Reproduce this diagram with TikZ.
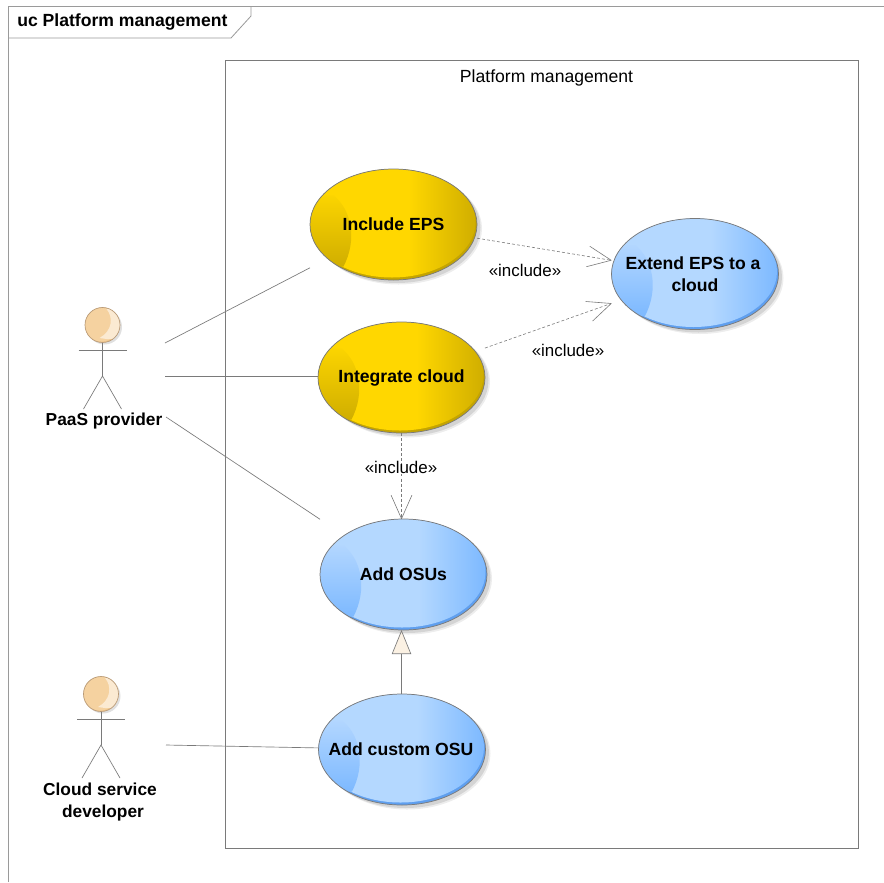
\documentclass[tikz,border=0pt]{standalone}
\usepackage{fontspec}
\setmainfont{Liberation Sans}
\usetikzlibrary{arrows.meta,calc}
\definecolor{ymain}{HTML}{FFD700}
\definecolor{ydark}{HTML}{D0AE00}
\definecolor{ybase}{HTML}{C4A400}
\definecolor{ycres}{HTML}{FBD400}
\definecolor{ymid}{HTML}{F0CB00}
\definecolor{bmain}{HTML}{B4D8FF}
\definecolor{bdark}{HTML}{7DB9FF}
\definecolor{bbase}{HTML}{5F9FEF}
\definecolor{bcres}{HTML}{B2D6FF}
\definecolor{bmid}{HTML}{9CCBFF}
\definecolor{skinA}{HTML}{FBEAD2}
\definecolor{skinB}{HTML}{F5D2A0}
\definecolor{skinC}{HTML}{EFC58C}
\definecolor{skinedge}{HTML}{B89A78}
\definecolor{tripale}{HTML}{FBF1E3}
\definecolor{framegray}{HTML}{9A9A9A}
\definecolor{linegray}{HTML}{7A7A7A}
\pgfdeclarehorizontalshading{ymainshade}{100bp}{color(0bp)=(ymain); color(55bp)=(ymain); color(75bp)=(ydark); color(100bp)=(ydark)}
\pgfdeclarehorizontalshading{bmainshade}{100bp}{color(0bp)=(bmain); color(55bp)=(bmain); color(75bp)=(bdark); color(100bp)=(bdark)}
\tikzset{
  ucbox/.style={draw=none,rectangle,inner sep=0pt,outer sep=0pt,minimum width=125.25pt,minimum height=83.25pt,align=center,font=\bfseries\fontsize{13.2}{16.5}\selectfont,text=black},
  actorbox/.style={draw=none,rectangle,inner sep=0pt,outer sep=0pt},
  actorline/.style={draw=linegray,line width=0.5pt},
  assoc/.style={draw=linegray,line width=0.5pt},
  incl/.style={draw=linegray,line width=0.45pt,dash pattern=on 2.2pt off 1.6pt},
  openhead/.style={-{Straight Barb[length=17.5pt,width=15.5pt,line width=0.45pt,round,sep=0pt]}},
  framel/.style={draw=framegray,line width=0.6pt},
  boundl/.style={draw=linegray,line width=0.55pt},
  lbl/.style={font=\fontsize{13.2}{15}\selectfont,text=black,inner sep=0pt},
  incllbl/.style={font=\fontsize{12.7}{15}\selectfont,text=black,inner sep=0pt},
  boldlbl/.style={font=\bfseries\fontsize{13}{16.5}\selectfont,text=black,inner sep=0pt,align=center},
  titlelbl/.style={font=\bfseries\fontsize{13.2}{15}\selectfont,text=black,inner sep=0pt,anchor=west},
}
\newcommand{\ucshape}[3]{% cx, cy, colour prefix
  \begin{scope}[shift={(#1,#2)}]
    \fill[black,opacity=0.07] (5,4) ellipse (83.5 and 56);
    \fill[black,opacity=0.10] (3.5,3) ellipse (83.5 and 55.5);
    \fill[#3base] (0,0) ellipse (83.5 and 55.5);
    \begin{scope}
      \clip (0,0) ellipse (83.5 and 55.5);
      \shade[shading=#3mainshade] (-1.5,-2.5) ellipse (83.5 and 55.5);
      \shade[top color=#3cres,middle color=#3mid,bottom color=#3dark]
        (-60,-29) .. controls (-42,-15) and (-36,15) .. (-50,42) -- (-90,42) -- (-90,-29) -- cycle;
    \end{scope}
    \draw[draw=linegray,line width=0.55pt] (0,0) ellipse (83.5 and 55.5);
  \end{scope}
}
\newcommand{\stick}[2]{% head centre x,y
  \begin{scope}[shift={(#1,#2)}]
    \fill[black,opacity=0.12] (2,2) circle (17.5);
    \fill[skinC] (0,0) circle (17.5);
    \begin{scope}
      \clip (0,0) circle (17.5);
      \fill[skinB] (-1,-1) circle (17.5);
      \fill[skinA] (4,-16) .. controls (11,-8) and (10,6) .. (-3,13) -- (4,14) -- (18,14) -- (18,-16) -- cycle;
    \end{scope}
    \draw[draw=skinedge,line width=0.5pt] (0,0) circle (17.5);
    \draw[actorline] (0,17.5) -- (0,51);
    \draw[actorline] (-24,25) -- (24,25);
    \draw[actorline] (-19,84) -- (0,51) -- (19,84);
  \end{scope}
}
\begin{document}
\begin{tikzpicture}[x=0.75pt,y=-0.75pt]
\useasboundingbox (0,0) rectangle (884,882);
\fill[white] (0,0) rectangle (884,882);
% frame
\draw[framel] (8.5,882) -- (8.5,6.5) -- (884,6.5);
\draw[framel] (8.5,38) -- (231,38) -- (251,16) -- (251,6.5);
\node[titlelbl] (frametitle) at (17,22) {uc Platform management};
% system boundary
\draw[boundl] (225.5,60.5) rectangle (858,848);
\node[lbl] (boundlabel) at (546.5,78) {Platform management};
% use cases
\ucshape{393.5}{224.5}{y}
\ucshape{695}{274}{b}
\ucshape{401.5}{377.5}{y}
\ucshape{403.5}{574.5}{b}
\ucshape{402}{749.5}{b}
\node[ucbox] (inceps) at (393.5,224.5) {Include EPS};
\node[ucbox] (extend) at (695,274) {\hspace*{-3pt}Extend EPS to a\\cloud};
\node[ucbox] (integ) at (401.5,377.5) {Integrate cloud};
\node[ucbox] (osus) at (403.5,574.5) {Add OSUs};
\node[ucbox] (custom) at (402,749.5) {\hspace*{-1.5pt}Add custom OSU};
% actors
\stick{102.5}{325}
\stick{101}{694}
\node[actorbox,minimum width=90.75pt,minimum height=92.25pt] (paas) at (104.5,368) {};
\node[actorbox,minimum width=91.5pt,minimum height=107.25pt] (dev) at (105,748) {};
\node[boldlbl] (paaslabel) at (104,421) {PaaS provider};
\node[boldlbl] (devlabel) at (100,802) {Cloud service\\\hspace*{4.5pt}developer};
% associations
\coordinate (p2) at ($(paas.east)+(0,8)$);
\draw[assoc] ($(paas.east)+(0,-25)$) -- (inceps);
\draw[assoc] (p2) -- (p2 -| integ.west);
\draw[assoc] ($(paas.east)+(1,49)$) -- (osus);
\draw[assoc] ($(dev.east)+(0,-3)$) -- (custom);
% includes
\draw[incl,openhead] (inceps) -- (extend);
\draw[incl,openhead] (integ) -- (extend);
\draw[incl,openhead] (integ.south) -- (integ.south |- osus.north);
\node[incllbl] (l1) at (525,270.5) {«include»};
\node[incllbl] (l2) at (568,350.5) {«include»};
\node[incllbl] (l3) at (401,467.5) {«include»};
% generalisation
\draw[draw=linegray,line width=0.5pt,-{Triangle[length=18pt,width=14.5pt,fill=tripale,line width=0.5pt]}] (custom.north -| integ.south) -- (integ.south |- osus.south);
\end{tikzpicture}
\end{document}
